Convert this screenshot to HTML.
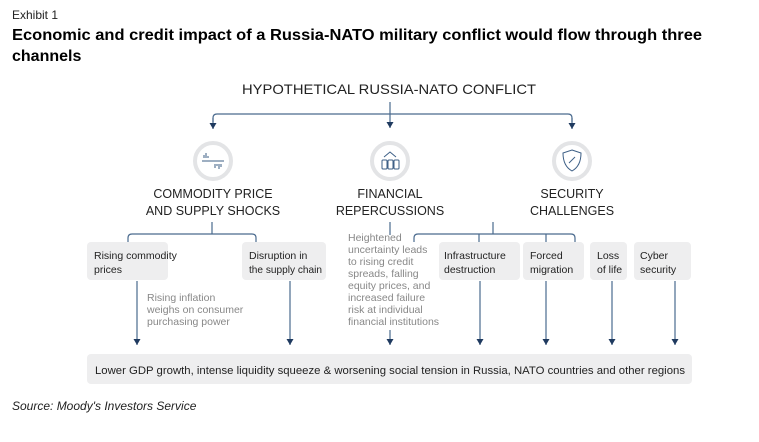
<!DOCTYPE html>
<html><head><meta charset="utf-8"><style>
html,body{margin:0;padding:0;background:#fff;width:759px;height:442px;overflow:hidden}
svg{display:block;font-family:"Liberation Sans",sans-serif}
</style></head><body>
<svg width="759" height="442" viewBox="0 0 759 442" xmlns="http://www.w3.org/2000/svg">
<defs><marker id="a" markerWidth="8" markerHeight="8" refX="4" refY="7" orient="0" markerUnits="userSpaceOnUse"><path d="M0.5,1 L7.5,1 L4,7 Z" fill="#1f3a5f"/></marker></defs>
<text x="12" y="19" font-size="12" fill="#222">Exhibit 1</text>
<text x="12" y="40" font-size="16" font-weight="bold" fill="#000" textLength="690" lengthAdjust="spacingAndGlyphs">Economic and credit impact of a Russia-NATO military conflict would flow through three</text>
<text x="12" y="61" font-size="16" font-weight="bold" fill="#000">channels</text>
<text x="389" y="94" font-size="14" fill="#222" text-anchor="middle" textLength="294" lengthAdjust="spacingAndGlyphs">HYPOTHETICAL RUSSIA-NATO CONFLICT</text>
<g stroke="#4a6a8e" stroke-width="1.2" fill="none">
<line x1="390" y1="102" x2="390" y2="128" marker-end="url(#a)"/>
<path d="M213,122 L213,118 Q213,114 217,114 L568,114 Q572,114 572,118 L572,122"/>
<line x1="213" y1="118" x2="213" y2="129" marker-end="url(#a)"/>
<line x1="572" y1="118" x2="572" y2="129" marker-end="url(#a)"/>
<line x1="212" y1="222" x2="212" y2="234"/>
<path d="M128,242 L128,238 Q128,234 132,234 L252,234 Q256,234 256,238 L256,242"/>
<line x1="390" y1="222" x2="390" y2="235"/>
<line x1="493" y1="222" x2="493" y2="234"/>
<path d="M414,242 L414,238 Q414,234 418,234 L571,234 Q575,234 575,238 L575,242"/>
<line x1="479" y1="234" x2="479" y2="242"/><line x1="546" y1="234" x2="546" y2="242"/>
<line x1="137" y1="281" x2="137" y2="345" marker-end="url(#a)"/>
<line x1="290" y1="281" x2="290" y2="345" marker-end="url(#a)"/>
<line x1="390" y1="330" x2="390" y2="345" marker-end="url(#a)"/>
<line x1="480" y1="281" x2="480" y2="345" marker-end="url(#a)"/>
<line x1="546" y1="281" x2="546" y2="345" marker-end="url(#a)"/>
<line x1="612" y1="281" x2="612" y2="345" marker-end="url(#a)"/>
<line x1="675" y1="281" x2="675" y2="345" marker-end="url(#a)"/>
</g>
<g fill="#fff" stroke="#e3e4e6" stroke-width="4">
<circle cx="213" cy="161" r="18"/><circle cx="390" cy="161" r="18"/><circle cx="572" cy="161" r="18"/>
</g>
<g stroke="#3d5f86" stroke-width="1" fill="none">
<line x1="202" y1="161" x2="224" y2="161"/>
<path d="M204,158v-3M206,158v-5M208,158v-2M215,164v4M217,164v2M219,164v5M221,164v3"/>
<rect x="382" y="160" width="5" height="9" rx="1"/><rect x="388" y="160" width="5" height="9" rx="1"/><rect x="394" y="160" width="5" height="9" rx="1"/>
<path d="M384,157 L390,152 L396,157"/>
<path d="M572,150 L581,153 Q581,166 572,171 Q563,166 563,153 Z"/><path d="M569,163 L575,157"/>
</g>
<g font-size="12.5" fill="#222" text-anchor="middle">
<text x="213" y="198">COMMODITY PRICE</text><text x="213" y="215">AND SUPPLY SHOCKS</text>
<text x="390" y="198">FINANCIAL</text><text x="390" y="215">REPERCUSSIONS</text>
<text x="572" y="198">SECURITY</text><text x="572" y="215">CHALLENGES</text>
</g>
<g fill="#eeeeef">
<rect x="87" y="242" width="81" height="38" rx="4"/><rect x="242" y="242" width="84" height="38" rx="4"/>
<rect x="439" y="242" width="81" height="38" rx="4"/><rect x="523" y="242" width="61" height="38" rx="4"/>
<rect x="590" y="242" width="37" height="38" rx="4"/><rect x="634" y="242" width="57" height="38" rx="4"/>
<rect x="87" y="354" width="605" height="30" rx="4"/>
</g>
<g font-size="10.5" fill="#222">
<text x="94" y="259">Rising commodity</text><text x="94" y="273">prices</text>
<text x="249" y="259">Disruption in</text><text x="249" y="273" textLength="73" lengthAdjust="spacingAndGlyphs">the supply chain</text>
<text x="444" y="259">Infrastructure</text><text x="444" y="273">destruction</text>
<text x="530" y="259">Forced</text><text x="530" y="273">migration</text>
<text x="597" y="259">Loss</text><text x="597" y="273">of life</text>
<text x="640" y="259">Cyber</text><text x="640" y="273">security</text>
<text x="95" y="374" font-size="11" textLength="590" lengthAdjust="spacingAndGlyphs">Lower GDP growth, intense liquidity squeeze &amp; worsening social tension in Russia, NATO countries and other regions</text>
</g>
<g font-size="10.5" fill="#888">
<text x="147" y="301">Rising inflation</text><text x="147" y="313">weighs on consumer</text><text x="147" y="325">purchasing power</text>
<text x="348" y="241">Heightened</text><text x="348" y="253">uncertainty leads</text><text x="348" y="265">to rising credit</text>
<text x="348" y="277">spreads, falling</text><text x="348" y="289">equity prices, and</text><text x="348" y="301">increased failure</text>
<text x="348" y="313">risk at individual</text><text x="348" y="325">financial institutions</text>
</g>
<text x="12" y="410" font-size="12" font-style="italic" fill="#222">Source: Moody's Investors Service</text>
</svg>
</body></html>
